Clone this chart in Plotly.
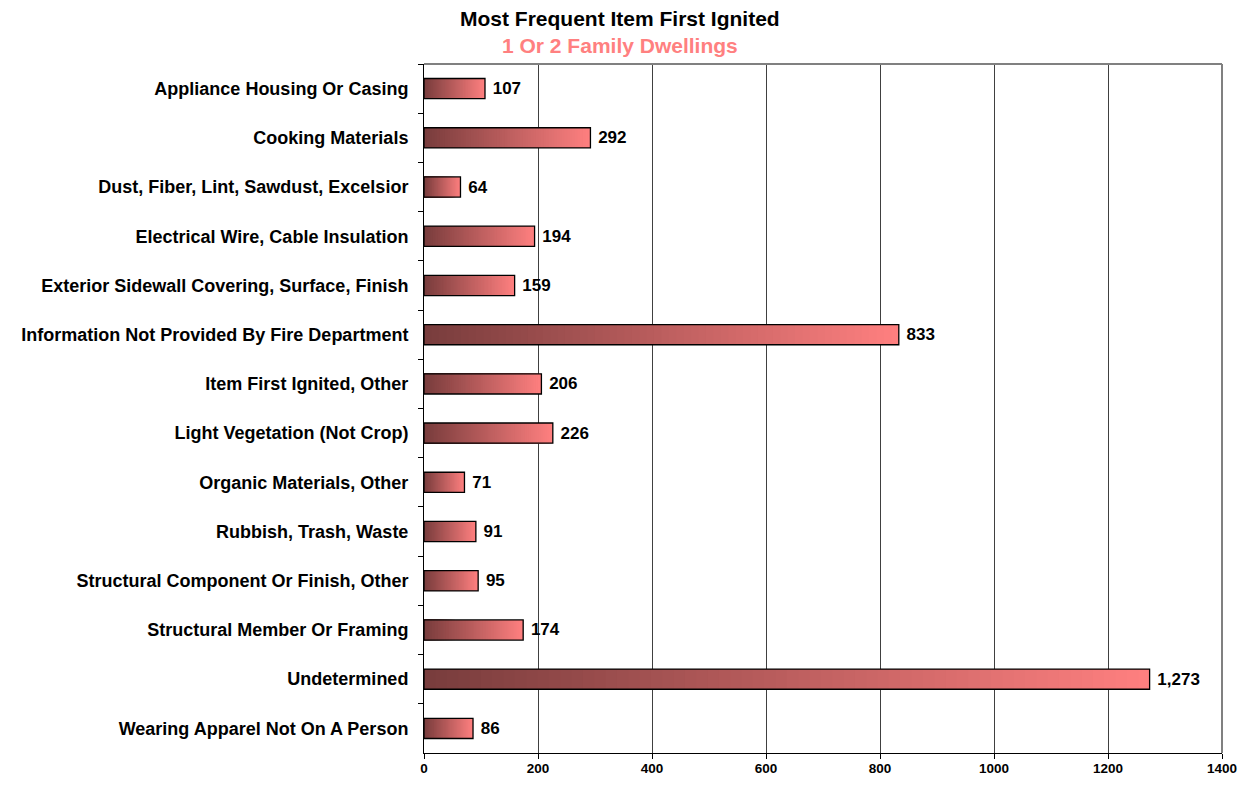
import plotly.graph_objects as go

categories = [
    "Appliance Housing Or Casing",
    "Cooking Materials",
    "Dust, Fiber, Lint, Sawdust, Excelsior",
    "Electrical Wire, Cable Insulation",
    "Exterior Sidewall Covering, Surface, Finish",
    "Information Not Provided By Fire Department",
    "Item First Ignited, Other",
    "Light Vegetation (Not Crop)",
    "Organic Materials, Other",
    "Rubbish, Trash, Waste",
    "Structural Component Or Finish, Other",
    "Structural Member Or Framing",
    "Undetermined",
    "Wearing Apparel Not On A Person",
]
values = [107, 292, 64, 194, 159, 833, 206, 226, 71, 91, 95, 174, 1273, 86]
x_ticks = [0, 200, 400, 600, 800, 1000, 1200, 1400]

title = "Most Frequent Item First Ignited"
subtitle = "1 Or 2 Family Dwellings"

c_start = (120, 60, 60)
c_end = (255, 128, 128)
N = 64
FONT = "Liberation Sans, Arial, sans-serif"

fig = go.Figure()
# gradient: nested bars from 0, longest (lightest) drawn first
for k in range(N):
    frac = (N - k) / N
    t = (N - k - 0.5) / N
    col = tuple(round(a + (b - a) * t) for a, b in zip(c_start, c_end))
    fig.add_trace(go.Bar(
        y=categories,
        x=[v * frac for v in values],
        orientation="h",
        marker=dict(color="rgb(%d,%d,%d)" % col, line=dict(width=0)),
        hoverinfo="skip",
        showlegend=False,
    ))

labels = [" {:,}".format(v) for v in values]
fig.add_trace(go.Bar(
    y=categories,
    x=values,
    orientation="h",
    marker=dict(color="rgba(0,0,0,0)", line=dict(color="black", width=1.3)),
    text=labels,
    textposition="outside",
    cliponaxis=False,
    textfont=dict(family=FONT, size=17, color="black", weight="bold"),
    showlegend=False,
))

fig.update_layout(
    width=1235,
    height=770,
    barmode="overlay",
    bargap=0.59,
    plot_bgcolor="white",
    paper_bgcolor="white",
    margin=dict(l=416, r=21, t=56, b=25),
    font=dict(family=FONT, color="black"),
    annotations=[
        dict(text="<b>%s</b>" % title, xref="paper", yref="paper", x=0.2456, y=1,
             xanchor="center", yanchor="middle", yshift=46, showarrow=False,
             font=dict(size=21, color="black")),
        dict(text="<b>%s</b>" % subtitle, xref="paper", yref="paper", x=0.2456, y=1,
             xanchor="center", yanchor="middle", yshift=19, showarrow=False,
             font=dict(size=21, color="#ff8080")),
    ],
)
fig.update_xaxes(
    range=[0, 1400],
    tickvals=x_ticks,
    ticks="outside",
    ticklen=5,
    tickcolor="black",
    showline=True,
    linecolor="black",
    linewidth=1,
    showgrid=True,
    gridcolor="#404040",
    gridwidth=1,
    zeroline=False,
    automargin=False,
    ticklabelstandoff=-2,
    tickfont=dict(family=FONT, size=13.5, weight="bold"),
)
fig.update_yaxes(
    categoryorder="array",
    categoryarray=categories,
    autorange="reversed",
    ticks="outside",
    tickson="boundaries",
    ticklen=5,
    tickcolor="black",
    showline=True,
    linecolor="black",
    linewidth=1,
    showgrid=False,
    automargin=False,
    ticklabelstandoff=11,
    tickfont=dict(size=18, weight="bold"),
)
fig.add_shape(type="line", xref="paper", yref="paper", x0=0, x1=1, y0=1, y1=1,
              line=dict(color="#808080", width=2))
fig.add_shape(type="line", xref="paper", yref="paper", x0=1, x1=1, y0=0, y1=1,
              line=dict(color="#808080", width=2))

fig.write_html("out.html")
